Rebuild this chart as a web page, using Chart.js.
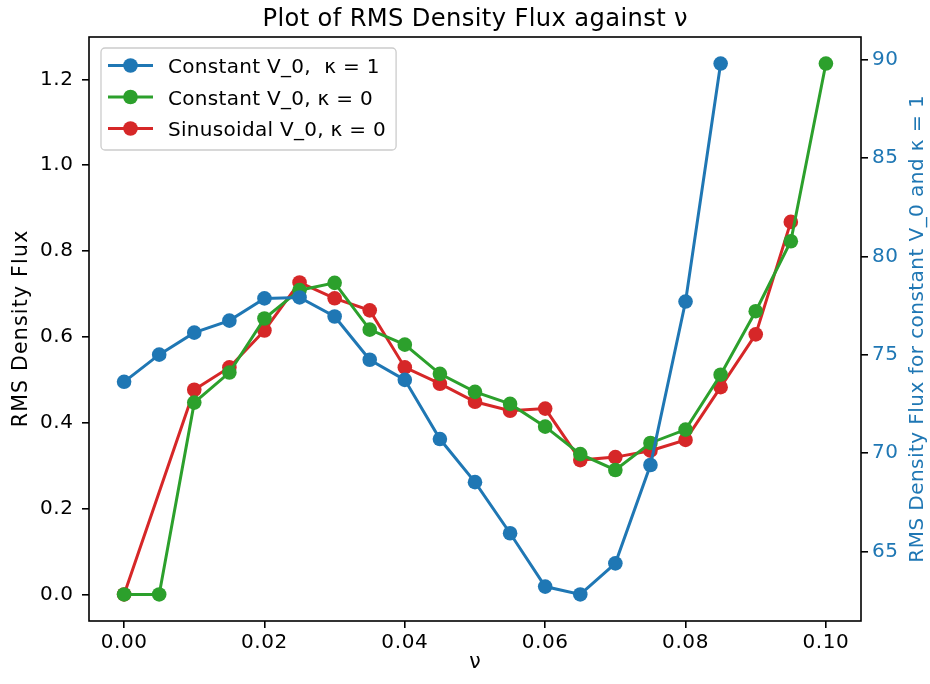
<!DOCTYPE html>
<html><head><meta charset="utf-8">
<script src="https://cdn.jsdelivr.net/npm/chart.js@4.4.1/dist/chart.umd.min.js"></script>
<style>html,body{margin:0;padding:0;background:#fff;}#wrap{width:930px;height:684px;}</style>
</head><body><div id="wrap"><canvas id="c" width="930" height="684"></canvas></div>
<script>
// ---- data ----
const titleText = 'Plot of RMS Density Flux against ν';
const xLabel = 'ν';
const yLabel = 'RMS Density Flux';
const y2Label = 'RMS Density Flux for constant V_0 and κ = 1';
const seriesNames = ['Constant V_0,  κ = 1', 'Constant V_0, κ = 0', 'Sinusoidal V_0, κ = 0'];

const nuBlue = [0, 0.005, 0.01, 0.015, 0.02, 0.025, 0.03, 0.035, 0.04, 0.045, 0.05, 0.055, 0.06, 0.065, 0.07, 0.075, 0.08, 0.085];
const fluxBlue = [73.62, 75.00, 76.12, 76.73, 77.86, 77.91, 76.94, 74.74, 73.72, 70.71, 68.52, 65.92, 63.21, 62.81, 64.39, 69.39, 77.70, 89.80];

const nuGreen = [0, 0.005, 0.01, 0.015, 0.02, 0.025, 0.03, 0.035, 0.04, 0.045, 0.05, 0.055, 0.06, 0.065, 0.07, 0.075, 0.08, 0.085, 0.09, 0.095, 0.1];
const fluxGreen = [0, 0, 0.447, 0.517, 0.643, 0.709, 0.726, 0.617, 0.582, 0.514, 0.472, 0.444, 0.391, 0.327, 0.290, 0.353, 0.384, 0.512, 0.660, 0.823, 1.237];

const nuRed = [0, 0.01, 0.015, 0.02, 0.025, 0.03, 0.035, 0.04, 0.045, 0.05, 0.055, 0.06, 0.065, 0.07, 0.075, 0.08, 0.085, 0.09, 0.095];
const fluxRed = [0, 0.477, 0.529, 0.615, 0.727, 0.690, 0.662, 0.529, 0.491, 0.449, 0.428, 0.433, 0.313, 0.320, 0.335, 0.360, 0.483, 0.606, 0.868];

const xTicks = [0, 0.02, 0.04, 0.06, 0.08, 0.10];
const yTicks = [0, 0.2, 0.4, 0.6, 0.8, 1.0, 1.2];
const y2Ticks = [65, 70, 75, 80, 85, 90];

// ---- styling ----
const FAM = '"DejaVu Sans", sans-serif';
const TICK_FONT = {family: FAM, size: 20};
const BLUE = '#1f77b4', GREEN = '#2ca02c', RED = '#d62728';

function pts(xs, ys) { return xs.map((x, i) => ({x: x, y: ys[i]})); }
function ds(label, xs, ys, color, axis) {
  return {label: label, data: pts(xs, ys), yAxisID: axis, borderColor: color, backgroundColor: color,
    borderWidth: 3, pointRadius: 7.3, pointHoverRadius: 7.3, pointBorderWidth: 0, tension: 0, fill: false};
}

function drawText(ctx, txt, x, y, opts) {
  ctx.save();
  ctx.translate(x, y);
  if (opts.rot) ctx.rotate(opts.rot);
  ctx.font = opts.size + 'px ' + FAM;
  ctx.letterSpacing = (opts.ls || 0) + 'px';
  ctx.fillStyle = opts.color || '#000';
  ctx.textAlign = opts.align || 'center';
  ctx.textBaseline = opts.baseline || 'alphabetic';
  let dx = 0;
  if ((opts.align || 'center') === 'center') dx = (opts.ls || 0) / 2;
  ctx.fillText(txt, dx, 0);
  ctx.restore();
}

const spacingPlugin = {
  id: 'spacing',
  beforeDraw(chart) { chart.ctx.letterSpacing = '0.6px'; }
};

const framePlugin = {
  id: 'frame',
  afterDatasetsDraw(chart) {
    const a = chart.chartArea, ctx = chart.ctx;
    ctx.save();
    ctx.strokeStyle = '#000'; ctx.lineWidth = 1.6;
    ctx.strokeRect(a.left, a.top, a.right - a.left, a.bottom - a.top);
    ctx.restore();
  }
};

const labelsPlugin = {
  id: 'labels',
  afterDraw(chart) {
    const a = chart.chartArea, ctx = chart.ctx;
    const cx = (a.left + a.right) / 2, cy = (a.top + a.bottom) / 2;
    drawText(ctx, titleText, cx, 26, {size: 24.2, ls: 0.37});
    drawText(ctx, xLabel, cx, 668, {size: 20.5, ls: 0});
    drawText(ctx, yLabel, 26.8, cy, {size: 20.5, ls: 1.2, rot: -Math.PI / 2});
    drawText(ctx, y2Label, 923, cy, {size: 20, ls: 0.45, rot: -Math.PI / 2, color: BLUE});
  }
};

const legendPlugin = {
  id: 'mplLegend',
  afterDraw(chart) {
    const a = chart.chartArea, ctx = chart.ctx;
    const sets = chart.data.datasets;
    ctx.save();
    ctx.font = '20px ' + FAM;
    ctx.letterSpacing = '0.3px';
    let maxW = 0;
    sets.forEach(d => { maxW = Math.max(maxW, ctx.measureText(d.label).width); });
    const bx = a.left + 12, by = a.top + 11;
    const textX = bx + 67;
    const bw = (textX - bx) + maxW + 10, bh = 102, r = 4;
    ctx.beginPath();
    ctx.moveTo(bx + r, by);
    ctx.lineTo(bx + bw - r, by); ctx.arcTo(bx + bw, by, bx + bw, by + r, r);
    ctx.lineTo(bx + bw, by + bh - r); ctx.arcTo(bx + bw, by + bh, bx + bw - r, by + bh, r);
    ctx.lineTo(bx + r, by + bh); ctx.arcTo(bx, by + bh, bx, by + bh - r, r);
    ctx.lineTo(bx, by + r); ctx.arcTo(bx, by, bx + r, by, r);
    ctx.closePath();
    ctx.fillStyle = 'rgba(255,255,255,0.8)'; ctx.fill();
    ctx.strokeStyle = '#cccccc'; ctx.lineWidth = 1.3; ctx.stroke();
    sets.forEach((d, i) => {
      const cy = by + 17.5 + i * 31.5;
      ctx.strokeStyle = d.borderColor; ctx.lineWidth = 3;
      ctx.beginPath(); ctx.moveTo(bx + 7, cy); ctx.lineTo(bx + 52, cy); ctx.stroke();
      ctx.fillStyle = d.borderColor;
      ctx.beginPath(); ctx.arc(bx + 29.5, cy, 7.3, 0, Math.PI * 2); ctx.fill();
      ctx.fillStyle = '#000'; ctx.textBaseline = 'alphabetic'; ctx.textAlign = 'left';
      ctx.fillText(d.label, textX, cy + 7.5);
    });
    ctx.restore();
  }
};

const tickGrid = {drawOnChartArea: false, drawTicks: true, tickLength: 7, color: '#000', lineWidth: 1.6};

new Chart(document.getElementById('c'), {
  type: 'line',
  data: {
    datasets: [
      ds(seriesNames[0], nuBlue, fluxBlue, BLUE, 'y2'),
      ds(seriesNames[1], nuGreen, fluxGreen, GREEN, 'y'),
      ds(seriesNames[2], nuRed, fluxRed, RED, 'y')
    ]
  },
  options: {
    responsive: false, animation: false, devicePixelRatio: 1, events: [],
    layout: {padding: {top: 37, left: 0, right: 0, bottom: 0}},
    plugins: {legend: {display: false}, tooltip: {enabled: false}, title: {display: false}},
    scales: {
      x: {
        type: 'linear', position: 'bottom', min: -0.005, max: 0.105,
        afterBuildTicks: s => { s.ticks = xTicks.map(v => ({value: v})); },
        afterFit: s => { s.height = 63; },
        ticks: {callback: v => v.toFixed(2), font: TICK_FONT, color: '#000', padding: 3, maxRotation: 0, autoSkip: false},
        grid: tickGrid, border: {display: false}, title: {display: false}
      },
      y: {
        type: 'linear', position: 'left', min: -0.06185, max: 1.29885,
        afterBuildTicks: s => { s.ticks = yTicks.map(v => ({value: v})); },
        afterFit: s => { s.width = 89; },
        ticks: {callback: v => v.toFixed(1), font: TICK_FONT, color: '#000', padding: 8.5, autoSkip: false},
        grid: tickGrid, border: {display: false}, title: {display: false}
      },
      y2: {
        type: 'linear', position: 'right', min: 61.46, max: 91.15,
        afterBuildTicks: s => { s.ticks = y2Ticks.map(v => ({value: v})); },
        afterFit: s => { s.width = 69; },
        ticks: {callback: v => String(v), font: TICK_FONT, color: BLUE, padding: 4, autoSkip: false},
        grid: tickGrid, border: {display: false}, title: {display: false}
      }
    }
  },
  plugins: [spacingPlugin, framePlugin, labelsPlugin, legendPlugin]
});
</script></body></html>
